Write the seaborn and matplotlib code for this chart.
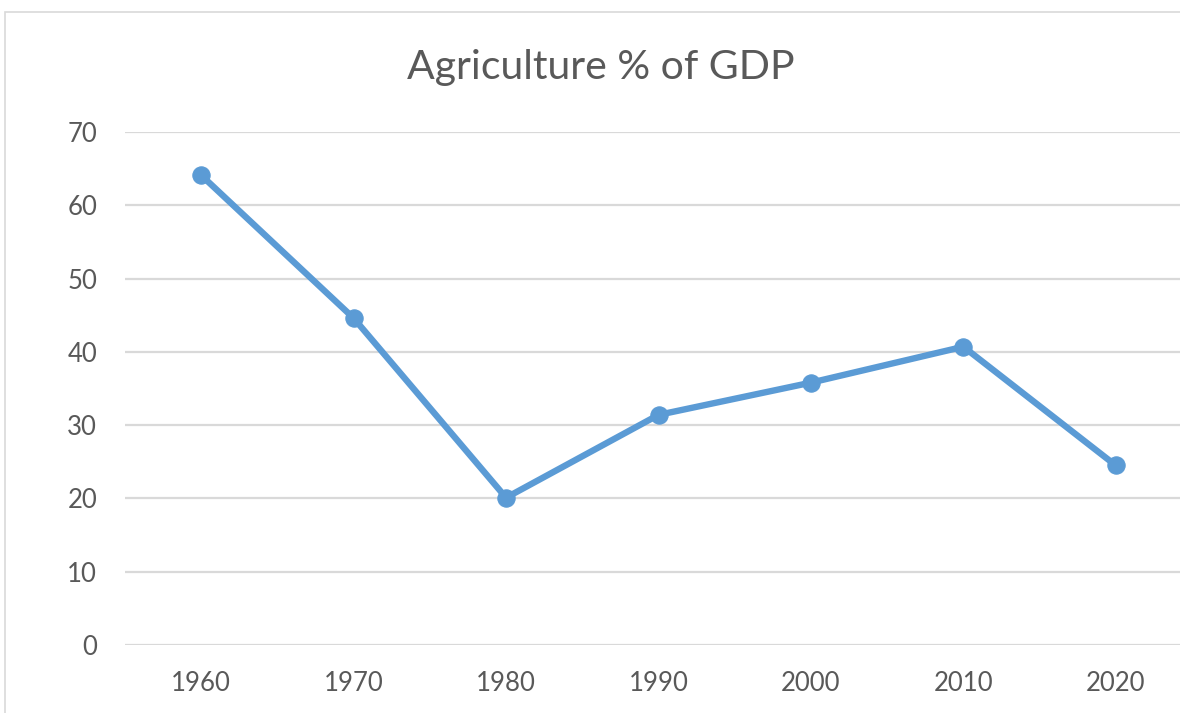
import pandas as pd
import matplotlib.pyplot as plt
import matplotlib.patches as mpatches
import seaborn as sns

years = ['1960', '1970', '1980', '1990', '2000', '2010', '2020']
agri_share = [64.1, 44.6, 20.1, 31.4, 35.8, 40.7, 24.5]
y_ticks = [0, 10, 20, 30, 40, 50, 60, 70]

df = pd.DataFrame({'year': years, 'share': agri_share})

sns.set_theme(style='white')
plt.rcParams['font.family'] = ['Lato', 'DejaVu Sans']
text_col = '#595959'
line_col = '#5B9BD5'

fig = plt.figure(figsize=(11.8, 7.13), dpi=100)
# chart border (Excel style frame, cut off on the right)
fig.patches.append(mpatches.Rectangle((5 / 1180, -0.01), 1.1, (713 - 12) / 713 + 0.01,
                                      transform=fig.transFigure, fill=False,
                                      edgecolor='#D9D9D9', linewidth=1.2))

ax = fig.add_axes([125 / 1180, (713 - 645) / 713, (1192 - 125) / 1180, (645 - 132) / 713])
sns.lineplot(data=df, x='year', y='share', ax=ax, color=line_col, linewidth=4.6,
             marker='o', markersize=12.5, markeredgecolor=line_col, sort=False)

ax.set_xlim(-0.5, len(years) - 0.5)
ax.set_ylim(0, 70)
ax.set_yticks(y_ticks)
ax.yaxis.grid(True, color='#D9D9D9', linewidth=1.6)
ax.set_axisbelow(True)
for s in ax.spines.values():
    s.set_visible(False)
ax.set_xlabel('')
ax.set_ylabel('')
ax.tick_params(axis='both', length=0, labelsize=18.5, colors=text_col)
ax.tick_params(axis='y', pad=20)
ax.tick_params(axis='x', pad=19)

fig.text(601 / 1180, 1 - 68 / 713, 'Agriculture % of GDP', ha='center', va='center',
         fontsize=29.5, color=text_col)

fig.savefig('out.png', dpi=100)
